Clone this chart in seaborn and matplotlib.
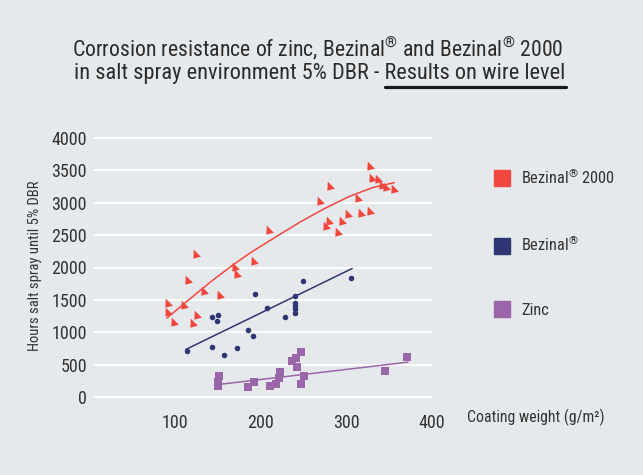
import pandas as pd
import matplotlib.pyplot as plt
import seaborn as sns
from matplotlib import font_manager
from matplotlib.lines import Line2D

# Bezinal 2000 samples (coating weight g/m2, hours)
b2000_w = [92, 92, 99, 115, 111, 126, 121, 134, 153, 173, 125, 170, 193, 210,
           281, 269, 280, 277, 290, 295, 302, 317, 328, 314, 328, 330, 337, 342, 346, 356]
b2000_h = [1457, 1312, 1158, 1800, 1415, 1262, 1149, 1631, 1569, 1892, 2211, 2005, 2097, 2585,
           3251, 3020, 2723, 2646, 2543, 2723, 2826, 2835, 2877, 3072, 3565, 3380, 3374, 3272, 3246, 3205]

# Bezinal samples
bez_w = [114, 143, 149, 151, 144, 158, 173, 186, 191, 194, 208, 229,
         240, 240, 240, 240, 240, 250, 306]
bez_h = [708, 1235, 1169, 1272, 774, 646, 758, 1042, 943, 1595, 1374, 1235,
         1558, 1446, 1400, 1354, 1297, 1785, 1835]

# Zinc samples
zinc_w = [152, 151, 151, 185, 193, 211, 218, 222, 223, 237, 242, 247, 243, 251, 247, 345, 371]
zinc_h = [323, 235, 169, 149, 226, 169, 195, 288, 380, 554, 595, 688, 457, 323, 195, 400, 611]

# trend lines
b2000_fit_w = [91, 120, 145, 168, 188, 217, 246, 275, 304, 331, 356]
b2000_fit_h = [1220, 1540, 1810, 2040, 2225, 2465, 2700, 2912, 3100, 3235, 3310]
bez_fit_w = [113, 307]
bez_fit_h = [734, 1985]
zinc_fit_w = [152, 372]
zinc_fit_h = [195, 538]

labels = ['Bezinal$^{®}$ 2000', 'Bezinal$^{®}$', 'Zinc']
colors = ['#F0473F', '#2E3673', '#9B66A9']

bg = '#E6E9EC'
sns.set_theme(style="white")
installed = {f.name for f in font_manager.fontManager.ttflist}
fam = next(n for n in ['Roboto Condensed', 'Arial Narrow', 'Liberation Sans Narrow',
                       'Roboto', 'DejaVu Sans'] if n in installed)
plt.rcParams['font.family'] = [fam, 'DejaVu Sans']
plt.rcParams['mathtext.fontset'] = 'custom'
plt.rcParams['mathtext.rm'] = fam
plt.rcParams['mathtext.default'] = 'regular'

fig = plt.figure(figsize=(6.43, 4.75), dpi=100, facecolor=bg)
ax = fig.add_axes([94 / 643, 1 - 398.3 / 475, 338 / 643, 261.6 / 475])
ax.set_facecolor(bg)

tri = [(-0.55, 1.0), (-0.65, -0.85), (0.9, -0.45)]

sns.lineplot(x=b2000_fit_w, y=b2000_fit_h, color=colors[0], lw=1.1, ax=ax)
sns.lineplot(x=bez_fit_w, y=bez_fit_h, color=colors[1], lw=1.1, ax=ax)
sns.lineplot(x=zinc_fit_w, y=zinc_fit_h, color=colors[2], lw=1.1, ax=ax)

sns.scatterplot(x=b2000_w, y=b2000_h, color=colors[0], marker=tri, s=50, linewidth=0, ax=ax)
sns.scatterplot(x=bez_w, y=bez_h, color=colors[1], marker='o', s=16, linewidth=0, ax=ax)
sns.scatterplot(x=zinc_w, y=zinc_h, color=colors[2], marker='s', s=38, linewidth=0, ax=ax)

ax.set_xlim(6, 400)
ax.set_ylim(-20, 4020)
for s in ax.spines.values():
    s.set_visible(False)
ax.grid(axis='y', color='white', lw=1.3)
ax.set_axisbelow(True)

ax.set_xticks(range(50, 401, 50))
ax.set_xticklabels(['' if v % 100 else str(v) for v in range(50, 401, 50)])
ax.tick_params(axis='x', colors='white', length=5, width=2.4, pad=6,
               labelcolor='#333333', labelsize=13)
ax.set_yticks(range(0, 4001, 500))
ax.tick_params(axis='y', direction='in', colors='#9a9a9a', length=4.5, width=1,
               labelcolor='#333333', labelsize=13, pad=5)
ax.set_xlabel('')
ax.set_ylabel('')

fig.text(35 / 643, 1 - 266 / 475, 'Hours salt spray until 5% DBR', rotation=90,
         ha='center', va='center', fontsize=10.5, color='#333333')
fig.text(467 / 643, 1 - 417 / 475, 'Coating weight (g/m²)', ha='left', va='center',
         fontsize=11.3, color='#333333')

# title
fig.text(0.494, 1 - 48 / 475, 'Corrosion resistance of zinc, Bezinal$^{®}$ and Bezinal$^{®}$ 2000',
         ha='center', va='center', fontsize=15.7, color='#2b2b2b')
fs2 = 16.1
t2 = fig.text(0.4975, 1 - 74 / 475, 'in salt spray environment 5% DBR - Results on wire level',
              ha='center', va='center', fontsize=fs2, color='#2b2b2b')
probe = fig.text(0, 0, 'Results on wire level', fontsize=fs2, alpha=0)
fig.canvas.draw()
r = fig.canvas.get_renderer()
full = t2.get_window_extent(r)
part = probe.get_window_extent(r)
x1 = full.x1 / fig.bbox.width
x0 = (full.x1 - part.width) / fig.bbox.width
fig.add_artist(Line2D([x0, x1], [1 - 87 / 475, 1 - 87 / 475], color='#1a1a1a', lw=2.3,
                      transform=fig.transFigure))

# legend
handles = [Line2D([], [], marker='s', color=c, ls='none', markersize=11) for c in colors]
leg = fig.legend(handles, labels, loc='upper left', bbox_to_anchor=(486 / 643, 1 - 159 / 475),
                 frameon=False, fontsize=11.8, labelspacing=2.95, handlelength=1.0,
                 handletextpad=0.65, borderpad=0)
for t in leg.get_texts():
    t.set_color('#333333')

fig.savefig('out.png', dpi=100, facecolor=bg)
